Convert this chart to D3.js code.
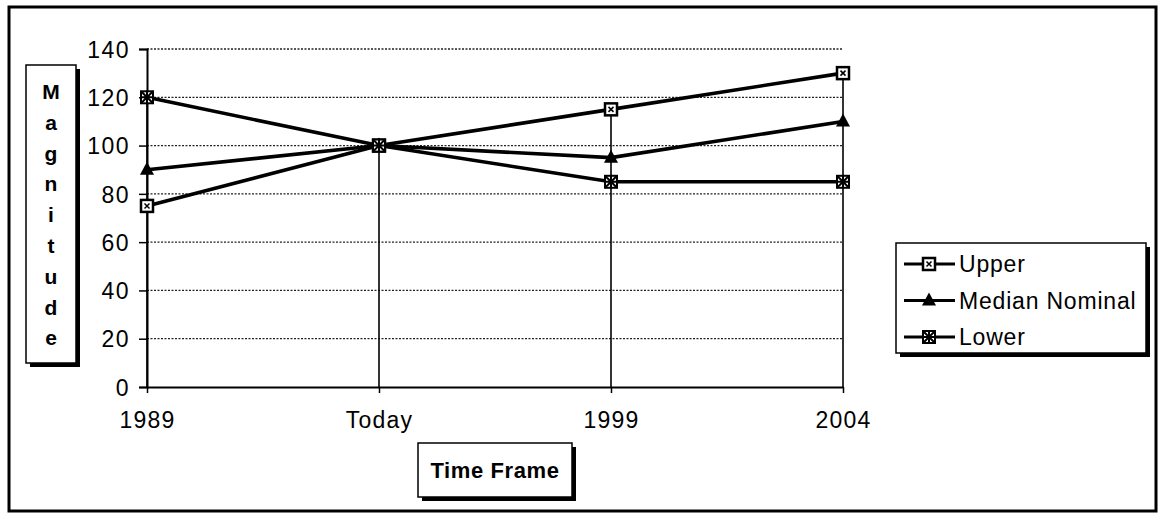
<!DOCTYPE html>
<html>
<head>
<meta charset="utf-8">
<script src="https://cdn.jsdelivr.net/npm/d3@7"></script>
<style>
  body { margin: 0; background: #fff; }
  text { font-family: "Liberation Sans", Arial, sans-serif; fill: #000; }
</style>
</head>
<body>
<div id="chart-div"></div>
<script>
const categories = ["1989", "Today", "1999", "2004"];
const upper = [75, 100, 115, 130];
const median = [90, 100, 95, 110];
const lower = [120, 100, 85, 85];
const seriesNames = ["Upper", "Median Nominal", "Lower"];
const yTicks = [0, 20, 40, 60, 80, 100, 120, 140];
const yTitle = "Magnitude";
const xTitle = "Time Frame";

function renderLineChart() {
  const W = 1159, H = 514;
  const svg = d3.select("#chart-div").append("svg")
    .attr("width", W).attr("height", H);

  // outer frame
  svg.append("rect")
    .attr("x", 9).attr("y", 7).attr("width", 1147).attr("height", 504)
    .attr("fill", "none").attr("stroke", "#000").attr("stroke-width", 3);

  const x = d3.scalePoint().domain(categories).range([147, 843]);
  const y = d3.scaleLinear().domain([0, 140]).range([387, 49]);

  const series = [
    { name: seriesNames[0], values: upper, marker: "square" },
    { name: seriesNames[1], values: median, marker: "triangle" },
    { name: seriesNames[2], values: lower, marker: "star" }
  ];

  // gridlines (dotted)
  svg.append("g").selectAll("line")
    .data(yTicks.filter(d => d > 0))
    .join("line")
    .attr("x1", x.range()[0]).attr("x2", x.range()[1])
    .attr("y1", d => y(d)).attr("y2", d => y(d))
    .attr("stroke", "#222").attr("stroke-width", 1.3)
    .attr("stroke-dasharray", "2,1.5");

  // y axis
  const yAxis = svg.append("g")
    .attr("transform", `translate(${x.range()[0]},0)`)
    .call(d3.axisLeft(y).tickValues(yTicks).tickSize(8).tickPadding(9));
  yAxis.select(".domain").attr("stroke-width", 2);
  yAxis.selectAll(".tick line").attr("stroke-width", 1.5);
  yAxis.selectAll(".tick text").style("font-size", "23px").style("letter-spacing", "1.5px").attr("dy", "0.36em");

  // x axis
  const xAxis = svg.append("g")
    .attr("transform", `translate(0,${y(0)})`)
    .call(d3.axisBottom(x).tickSize(6).tickPadding(19).tickSizeOuter(0));
  xAxis.select(".domain").attr("stroke-width", 2);
  xAxis.selectAll(".tick line").attr("stroke-width", 1.5);
  xAxis.selectAll(".tick text").style("font-size", "23px").style("letter-spacing", "1.2px").attr("dy", "0.71em");

  // drop lines from highest value to the axis
  svg.append("g").selectAll("line")
    .data(categories)
    .join("line")
    .attr("x1", d => x(d)).attr("x2", d => x(d))
    .attr("y1", (d, i) => y(d3.max(series, s => s.values[i])))
    .attr("y2", y(0))
    .attr("stroke", "#000").attr("stroke-width", 1.6);

  const line = d3.line().x((d, i) => x(categories[i])).y(d => y(d));

  series.forEach(s => {
    svg.append("path")
      .datum(s.values)
      .attr("d", line)
      .attr("fill", "none")
      .attr("stroke", "#000")
      .attr("stroke-width", 3.6);
  });

  function drawMarker(g, kind, cx, cy) {
    if (kind === "square") {
      g.append("rect").attr("x", cx - 6).attr("y", cy - 6).attr("width", 12).attr("height", 12)
        .attr("fill", "#fff").attr("stroke", "#000").attr("stroke-width", 2.5);
      g.append("path").attr("d", `M${cx - 2.5},${cy - 2.5}L${cx + 2.5},${cy + 2.5}M${cx + 2.5},${cy - 2.5}L${cx - 2.5},${cy + 2.5}`)
        .attr("stroke", "#000").attr("stroke-width", 1.5);
    } else if (kind === "triangle") {
      g.append("path").attr("d", `M${cx},${cy - 8}L${cx + 7},${cy + 5}L${cx - 7},${cy + 5}Z`)
        .attr("fill", "#000");
    } else {
      g.append("rect").attr("x", cx - 6).attr("y", cy - 6).attr("width", 12).attr("height", 12)
        .attr("fill", "#fff").attr("stroke", "#000").attr("stroke-width", 2);
      g.append("path")
        .attr("d", `M${cx - 6},${cy - 6}L${cx + 6},${cy + 6}M${cx + 6},${cy - 6}L${cx - 6},${cy + 6}M${cx},${cy - 7}L${cx},${cy + 7}M${cx - 7},${cy}L${cx + 7},${cy}`)
        .attr("stroke", "#000").attr("stroke-width", 2);
    }
  }

  series.forEach(s => {
    const g = svg.append("g");
    s.values.forEach((v, i) => drawMarker(g, s.marker, x(categories[i]), y(v)));
  });

  // y title box with shadow
  const yBox = { x: 26, y: 65, w: 50, h: 298 };
  svg.append("rect").attr("x", yBox.x + 4).attr("y", yBox.y + 4).attr("width", yBox.w).attr("height", yBox.h).attr("fill", "#000");
  svg.append("rect").attr("x", yBox.x).attr("y", yBox.y).attr("width", yBox.w).attr("height", yBox.h)
    .attr("fill", "#fff").attr("stroke", "#000").attr("stroke-width", 1.5);
  svg.append("g").selectAll("text")
    .data(yTitle.split(""))
    .join("text")
    .attr("x", yBox.x + yBox.w / 2)
    .attr("y", (d, i) => 99 + i * 30.8)
    .attr("text-anchor", "middle")
    .style("font-size", "21px").style("font-weight", "bold")
    .text(d => d);

  // x title box with shadow
  const xBox = { x: 418, y: 443, w: 154, h: 54 };
  svg.append("rect").attr("x", xBox.x + 4).attr("y", xBox.y + 4).attr("width", xBox.w).attr("height", xBox.h).attr("fill", "#000");
  svg.append("rect").attr("x", xBox.x).attr("y", xBox.y).attr("width", xBox.w).attr("height", xBox.h)
    .attr("fill", "#fff").attr("stroke", "#000").attr("stroke-width", 1.5);
  svg.append("text")
    .attr("x", xBox.x + xBox.w / 2).attr("y", xBox.y + 35)
    .attr("text-anchor", "middle")
    .style("font-size", "22px").style("font-weight", "bold").style("letter-spacing", "0.6px")
    .text(xTitle);

  // legend
  const lBox = { x: 896, y: 243, w: 250, h: 110 };
  svg.append("rect").attr("x", lBox.x + 4).attr("y", lBox.y + 4).attr("width", lBox.w).attr("height", lBox.h).attr("fill", "#000");
  svg.append("rect").attr("x", lBox.x).attr("y", lBox.y).attr("width", lBox.w).attr("height", lBox.h)
    .attr("fill", "#fff").attr("stroke", "#000").attr("stroke-width", 1.5);
  series.forEach((s, i) => {
    const ly = 264 + i * 36.5;
    const g = svg.append("g");
    g.append("line").attr("x1", 904).attr("x2", 955).attr("y1", ly).attr("y2", ly)
      .attr("stroke", "#000").attr("stroke-width", 2.8);
    drawMarker(g, s.marker, 929, ly);
    g.append("text").attr("x", 959).attr("y", ly + 8)
      .style("font-size", "23px").style("letter-spacing", "0.8px")
      .text(s.name);
  });
}

renderLineChart();
</script>
</body>
</html>
